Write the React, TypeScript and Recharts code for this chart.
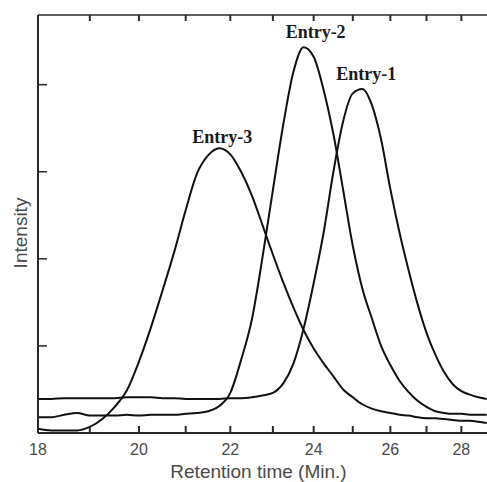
// GPC traces for three entries — retention time on a log axis, intensity in arbitrary units.

import { Line, LineChart, XAxis, YAxis } from "recharts";

const times = [
  18, 18.25, 18.5, 18.75, 19, 19.25, 19.5, 19.75, 20, 20.25, 20.5, 20.75, 21, 21.25, 21.5,
  21.75, 22, 22.25, 22.5, 22.75, 23, 23.25, 23.5, 23.75, 24, 24.25, 24.5, 24.75, 25, 25.25,
  25.5, 25.75, 26, 26.25, 26.5, 26.75, 27, 27.25, 27.5, 27.75, 28, 28.25, 28.5, 28.75,
];

const entry1 = [
  0.39, 0.39, 0.4, 0.4, 0.4, 0.4, 0.4, 0.41, 0.41, 0.41, 0.4, 0.4, 0.39, 0.39, 0.39,
  0.39, 0.4, 0.4, 0.41, 0.43, 0.46, 0.57, 0.8, 1.2, 1.72, 2.3, 3.0, 3.58, 3.9, 3.95,
  3.77, 3.37, 2.8, 2.3, 1.87, 1.48, 1.15, 0.9, 0.7, 0.56, 0.48, 0.44, 0.41, 0.39,
];

const entry2 = [
  0.18, 0.18, 0.21, 0.23, 0.2, 0.2, 0.2, 0.21, 0.2, 0.21, 0.21, 0.21, 0.22, 0.23, 0.25,
  0.31, 0.46, 0.84, 1.3, 2.01, 2.79, 3.54, 4.15, 4.43, 4.32, 3.94, 3.43, 2.79, 2.15, 1.66,
  1.32, 1.0, 0.78, 0.6, 0.47, 0.37, 0.3, 0.25, 0.23, 0.22, 0.22, 0.21, 0.21, 0.21,
];

const entry3 = [
  0.05, 0.03, 0.03, 0.03, 0.07, 0.16, 0.3, 0.49, 0.82, 1.21, 1.64, 2.08, 2.56, 2.98, 3.19,
  3.27, 3.2, 3.0, 2.73, 2.39, 2.05, 1.73, 1.44, 1.18, 0.97, 0.8, 0.65, 0.5, 0.41, 0.33,
  0.28, 0.25, 0.23, 0.21, 0.2, 0.18, 0.17, 0.17, 0.16, 0.15, 0.14, 0.14, 0.13, 0.115,
];

const timeTicks = [18, 19, 20, 21, 22, 23, 24, 25, 26, 27, 28];
const intensityTicks = [0, 1, 2, 3, 4];

const rows = times.map((t, i) => ({ t, e1: entry1[i], e2: entry2[i], e3: entry3[i] }));

const axisStroke = "#2a2a2a";
const textFill = "#4a4a4a";
const sans = "'Liberation Sans', Arial, sans-serif";

// tick marks only, no text
const noText = () => <g />;

// only the peak point of a trace gets its name
function peakLabel(name: string, values: number[], dx: number, dy: number) {
  const peak = values.indexOf(Math.max(...values));
  return (p: any) => {
    if (p.index !== peak) return <g />;
    return (
      <text
        x={p.x + dx}
        y={p.y + dy}
        textAnchor="middle"
        fontFamily="'Liberation Serif', 'Times New Roman', serif"
        fontWeight="bold"
        fontSize={18}
        fill="#1a1a1a"
      >
        {name}
      </text>
    );
  };
}

function IntensityTitle(p: any) {
  const vb = p.viewBox;
  const cx = vb.x + 20;
  const cy = vb.y + vb.height / 2 + 9;
  return (
    <text
      x={cx}
      y={cy}
      transform={`rotate(-90 ${cx} ${cy})`}
      textAnchor="middle"
      dominantBaseline="central"
      fontFamily={sans}
      fontSize={19}
      fill={textFill}
    >
      Intensity
    </text>
  );
}

function TimeTitle(p: any) {
  const vb = p.viewBox;
  return (
    <text
      x={vb.x + vb.width / 2 - 8}
      y={478}
      textAnchor="middle"
      fontFamily={sans}
      fontSize={19}
      fill={textFill}
    >
      Retention time (Min.)
    </text>
  );
}

export default function App() {
  return (
    <div
      style={{
        position: "absolute",
        left: 0,
        top: 0,
        width: 487,
        height: 482,
        overflow: "hidden",
        background: "#fff",
      }}
    >
      <LineChart width={500} height={482} data={rows} margin={{ top: 0, right: 0, bottom: 0, left: 0 }}>
        <XAxis
          dataKey="t"
          type="number"
          scale="log"
          domain={[18, 29]}
          allowDataOverflow
          ticks={timeTicks}
          interval={0}
          tickFormatter={(v: number) => (v % 2 === 0 ? String(v) : "")}
          tickSize={-7}
          tickMargin={18}
          height={49}
          tick={{ fill: textFill, fontSize: 16, fontFamily: sans }}
          axisLine={{ stroke: axisStroke, strokeWidth: 2 }}
          tickLine={{ stroke: axisStroke, strokeWidth: 2 }}
          label={<TimeTitle />}
        />
        <XAxis
          xAxisId="top"
          orientation="top"
          dataKey="t"
          type="number"
          scale="log"
          domain={[18, 29]}
          allowDataOverflow
          ticks={timeTicks}
          interval={0}
          tick={noText}
          tickSize={-6}
          height={15}
          axisLine={{ stroke: axisStroke, strokeWidth: 1.5 }}
          tickLine={{ stroke: axisStroke, strokeWidth: 2 }}
        />
        <YAxis
          type="number"
          domain={[0, 4.8]}
          allowDataOverflow
          ticks={intensityTicks}
          interval={0}
          tick={noText}
          tickSize={-9}
          width={38}
          axisLine={{ stroke: axisStroke, strokeWidth: 2 }}
          tickLine={{ stroke: axisStroke, strokeWidth: 1.5 }}
          label={<IntensityTitle />}
        />
        <YAxis
          yAxisId="right"
          orientation="right"
          type="number"
          domain={[0, 4.8]}
          allowDataOverflow
          ticks={intensityTicks}
          interval={0}
          tick={noText}
          tickSize={-8}
          width={5}
          axisLine={{ stroke: axisStroke, strokeWidth: 1.5 }}
          tickLine={{ stroke: axisStroke, strokeWidth: 1.5 }}
        />
        <Line
          dataKey="e3"
          type="monotone"
          stroke="#111"
          strokeWidth={2}
          dot={false}
          isAnimationActive={false}
          label={peakLabel("Entry-3", entry3, 3, -5)}
        />
        <Line
          dataKey="e2"
          type="monotone"
          stroke="#111"
          strokeWidth={2}
          dot={false}
          isAnimationActive={false}
          label={peakLabel("Entry-2", entry2, 12, -9)}
        />
        <Line
          dataKey="e1"
          type="monotone"
          stroke="#111"
          strokeWidth={2}
          dot={false}
          isAnimationActive={false}
          label={peakLabel("Entry-1", entry1, 4, -9)}
        />
      </LineChart>
    </div>
  );
}
